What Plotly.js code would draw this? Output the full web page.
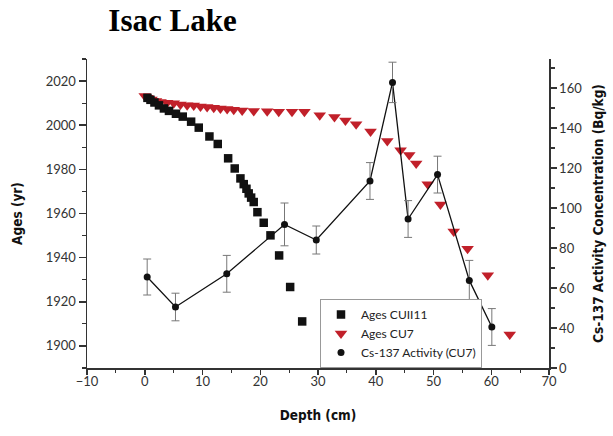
<!DOCTYPE html>
<html>
<head>
<meta charset="utf-8">
<script src="https://cdn.plot.ly/plotly-3.0.1.min.js"></script>
<style>
html,body{margin:0;padding:0;background:#fff;}
#chart{width:613px;height:436px;}
</style>
</head>
<body>
<div id="chart"></div>
<script>
// Ages CUII11 (black squares)
const depthCUII11 = [0.47, 0.99, 1.68, 2.46, 3.32, 4.19, 5.40, 6.58, 8.03, 9.35, 11.2, 12.64, 14.44, 15.58, 16.57, 17.14, 17.61, 18.0, 18.42, 18.87, 19.51, 20.6, 21.77, 23.27, 25.18, 27.26];
const agesCUII11 = [2012.4, 2011.5, 2010.3, 2009.0, 2007.6, 2006.5, 2005.2, 2003.9, 2001.6, 1998.9, 1994.9, 1991.5, 1985.0, 1980.4, 1975.9, 1973.3, 1971.2, 1969.1, 1967.2, 1965.2, 1960.6, 1955.8, 1950.1, 1941.0, 1926.7, 1911.1];

// Ages CU7 (red triangles)
const depthCU7 = [0.0, 0.47, 1.16, 1.94, 2.72, 3.88, 5.02, 6.18, 7.34, 8.48, 9.65, 10.8, 11.95, 13.1, 14.27, 15.41, 16.87, 18.87, 21.2, 23.2, 25.5, 27.65, 30.3, 32.85, 34.75, 36.6, 39.1, 42.0, 44.3, 45.8, 47.0, 49.0, 51.2, 53.5, 55.9, 59.4, 63.2];
const agesCU7 = [2013.2, 2012.4, 2011.7, 2011.0, 2010.5, 2010.2, 2009.9, 2009.4, 2009.1, 2008.9, 2008.5, 2008.2, 2007.9, 2007.6, 2007.3, 2007.0, 2006.7, 2006.4, 2006.3, 2006.1, 2006.1, 2006.1, 2004.5, 2003.7, 2002.1, 2000.4, 1997.1, 1992.8, 1988.7, 1986.5, 1982.6, 1973.2, 1964.1, 1951.8, 1944.0, 1932.0, 1905.2];

// Cs-137 activity (CU7)
const depthCs = [0.42, 5.32, 14.2, 24.2, 29.7, 39.0, 42.9, 45.6, 50.7, 56.2, 60.1];
const activityCs = [65.5, 50.5, 67.1, 91.8, 84.0, 113.5, 162.8, 94.5, 116.7, 63.8, 40.5];
const errorCs = [9.0, 6.9, 9.2, 10.7, 7.0, 9.2, 10.1, 9.2, 9.2, 10.0, 9.2];

// Right axis tick labels (bottom of the axis is labelled 0 in the original)
const rightTickVals = [20, 40, 60, 80, 100, 120, 140, 160];
const rightTickText = ["0", "40", "60", "80", "100", "120", "140", "160"];
const rightMinorVals = [30, 50, 70, 90, 110, 130, 150, 170];

const tickFont = {family: "Lato, Open Sans, sans-serif", size: 13, color: "#333"};
const titleFont = {family: "DejaVu Sans Condensed, DejaVu Sans, sans-serif", size: 13.5, color: "#111", weight: "bold"};

const traces = [
  {
    x: depthCU7, y: agesCU7, name: "Ages CU7", type: "scatter", mode: "markers",
    marker: {symbol: "triangle-down", size: 11, color: "#c1202a"},
    yaxis: "y", legendrank: 2
  },
  {
    x: depthCUII11, y: agesCUII11, name: "Ages CUII11", type: "scatter", mode: "markers",
    marker: {symbol: "square", size: 8.5, color: "#111"},
    yaxis: "y", legendrank: 1
  },
  {
    x: depthCs, y: activityCs, name: "Cs-137 Activity (CU7)", type: "scatter", mode: "lines",
    line: {color: "#111", width: 1.3},
    yaxis: "y2", showlegend: false, hoverinfo: "skip"
  },
  {
    x: depthCs, y: activityCs, name: "Cs-137 Activity (CU7)", type: "scatter", mode: "markers",
    marker: {symbol: "circle", size: 7, color: "#111"},
    error_y: {type: "data", array: errorCs, visible: true, color: "#777", thickness: 1, width: 4},
    yaxis: "y2", legendrank: 3
  }
];

const layout = {
  width: 613, height: 436,
  margin: {l: 87, r: 64, t: 59, b: 68},
  paper_bgcolor: "#fff", plot_bgcolor: "#fff",
  showlegend: true,
  title: {
    text: "<b>Isac Lake</b>",
    font: {family: "Liberation Serif, Times New Roman, serif", size: 31, color: "#000"},
    x: 172.5 / 613, xanchor: "center", xref: "container",
    y: 1 - 20 / 436, yanchor: "middle", yref: "container"
  },
  xaxis: {
    range: [-10, 70], tick0: 0, dtick: 10,
    ticks: "outside", ticklen: 5, tickwidth: 1.5, tickcolor: "#333",
    minor: {dtick: 5, ticks: "outside", ticklen: 3, tickwidth: 1.2, tickcolor: "#333", showgrid: false},
    showline: true, linecolor: "#333", linewidth: 1.5,
    showgrid: false, zeroline: false,
    tickfont: tickFont, ticklabelstandoff: -4,
    title: {text: "Depth (cm)", font: titleFont, standoff: 22}
  },
  yaxis: {
    range: [1890, 2030], tick0: 1900, dtick: 20,
    ticks: "outside", ticklen: 7, tickwidth: 1.5, tickcolor: "#333",
    minor: {dtick: 10, ticks: "outside", ticklen: 4, tickwidth: 1.2, tickcolor: "#333", showgrid: false},
    showline: true, linecolor: "#333", linewidth: 1.5,
    showgrid: false, zeroline: false,
    tickfont: tickFont,
    title: {text: "Ages (yr)", font: titleFont, standoff: 20}
  },
  yaxis2: {
    overlaying: "y", side: "right",
    range: [20, 174.5],
    tickmode: "array", tickvals: rightTickVals, ticktext: rightTickText,
    ticks: "outside", ticklen: 6, tickwidth: 1.5, tickcolor: "#333",
    minor: {tickmode: "array", tickvals: rightMinorVals, ticks: "outside", ticklen: 4, tickwidth: 1.2, tickcolor: "#333", showgrid: false},
    showline: true, linecolor: "#333", linewidth: 1.5,
    showgrid: false, zeroline: false,
    tickfont: tickFont,
    title: {text: "Cs-137 Activity Concentration (Bq/kg)", font: titleFont, standoff: 12}
  },
  legend: {
    x: (320 - 87) / 462, xanchor: "left",
    y: 0, yanchor: "bottom",
    bgcolor: "#fff", bordercolor: "#999", borderwidth: 1,
    font: {family: "Lato, Open Sans, sans-serif", size: 12, color: "#222"},
    itemwidth: 30, tracegroupgap: 0
  }
};

Plotly.newPlot("chart", traces, layout, {displayModeBar: false, staticPlot: true});
</script>
</body>
</html>
